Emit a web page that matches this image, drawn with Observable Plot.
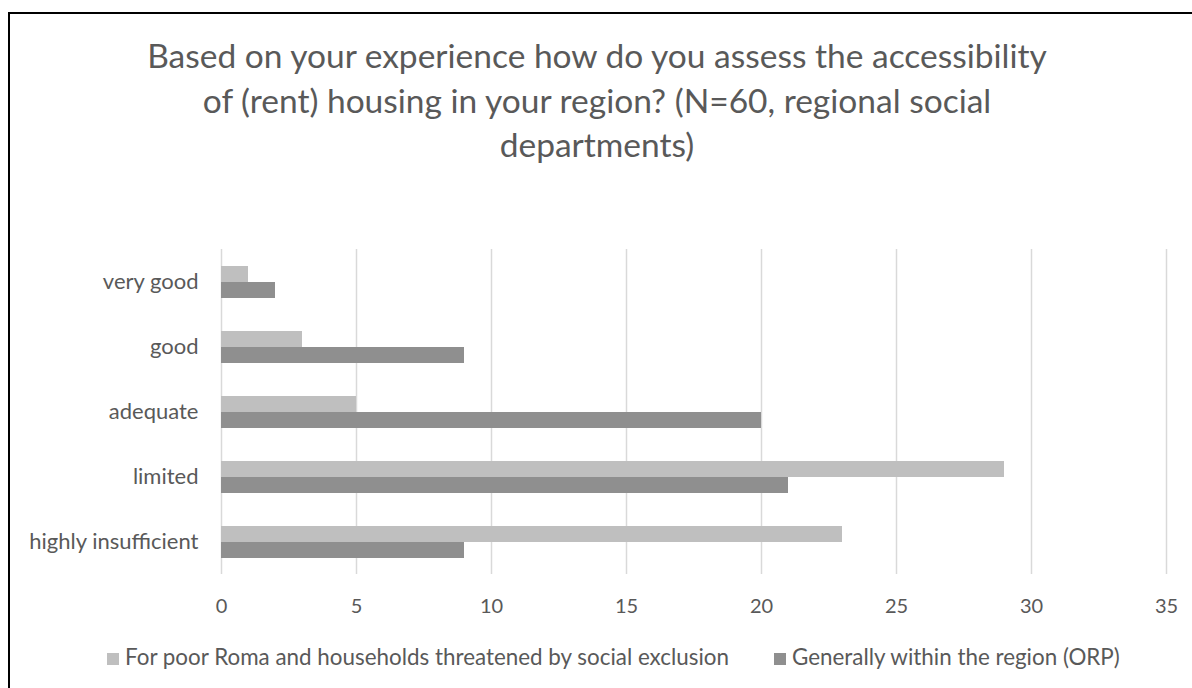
<!DOCTYPE html>
<html>
<head>
<meta charset="utf-8">
<script src="https://cdn.jsdelivr.net/npm/d3@7"></script>
<script src="https://cdn.jsdelivr.net/npm/@observablehq/plot@0.6"></script>
<style>
  html, body { margin: 0; padding: 0; background: #fff; }
  #wrap { position: relative; width: 1192px; height: 688px; overflow: hidden; background: #fff; font-family: Lato, "Open Sans", sans-serif; color: #595959; }
  #frame { position: absolute; left: 8px; top: 12px; width: 1300px; height: 800px; border-left: 2px solid #000; border-top: 2px solid #000; box-sizing: border-box; }
  #title { position: absolute; left: 0; width: 1194px; top: 33px; text-align: center; font-size: 33.5px; line-height: 44.5px; color: #595959; }
  #chart { position: absolute; left: 0; top: 230px; }
  #legend { position: absolute; left: 0; top: 644px; width: 1192px; height: 26px; font-size: 22.4px; }
  .li { position: absolute; top: 0; white-space: nowrap; line-height: 26px; }
  .sw { display: inline-block; width: 12px; height: 12px; margin-right: 6px; vertical-align: 0px; }
</style>
</head>
<body>
<div id="wrap">
  <div id="frame"></div>
  <div id="title">Based on your experience how do you assess the accessibility<br>of (rent) housing in your region? (N=60, regional social<br>departments)</div>
  <div id="chart"></div>
  <div id="legend"></div>
</div>
<script>
const categories = ["very good", "good", "adequate", "limited", "highly insufficient"];
const seriesNames = ["For poor Roma and households threatened by social exclusion", "Generally within the region (ORP)"];
const romaValues = [1, 3, 5, 29, 23];
const regionValues = [2, 9, 20, 21, 9];
const xTicks = [0, 5, 10, 15, 20, 25, 30, 35];
const colors = ["#bfbfbf", "#8f8f8f"];

const data = [];
categories.forEach((c, i) => {
  data.push({category: c, series: seriesNames[0], value: romaValues[i]});
  data.push({category: c, series: seriesNames[1], value: regionValues[i]});
});

const chart = Plot.plot({
  width: 1192,
  height: 394,
  marginLeft: 221,
  marginRight: 26,
  marginTop: 18,
  marginBottom: 50,
  style: { fontFamily: "Lato, 'Open Sans', sans-serif", fontSize: "22px", color: "#595959", background: "transparent" },
  x: { domain: [0, 35], ticks: xTicks, tickSize: 0, tickPadding: 24, label: null, grid: false },
  fy: { domain: categories, padding: 0, label: null, tickSize: 0, tickPadding: 23 },
  y: { domain: seriesNames, axis: null, paddingInner: 0, paddingOuter: 0.97 },
  color: { domain: seriesNames, range: colors },
  facet: { data: data, y: "category" },
  marks: [
    Plot.ruleX(xTicks, { stroke: "#d9d9d9", strokeWidth: 1.5, strokeOpacity: 1 }),
    Plot.barX(data, { x: "value", y: "series", fill: "series", inset: 0 })
  ]
});
document.getElementById("chart").appendChild(chart);

// x tick labels slightly smaller than category labels
chart.querySelectorAll("g[aria-label='x-axis tick label']").forEach(g => { g.setAttribute("font-size", "20px"); });

const legend = document.getElementById("legend");
const legendX = [107, 774];
seriesNames.forEach((s, i) => {
  const d = document.createElement("div");
  d.className = "li";
  d.style.left = legendX[i] + "px";
  const sw = document.createElement("span");
  sw.className = "sw";
  sw.style.background = colors[i];
  d.appendChild(sw);
  d.appendChild(document.createTextNode(s));
  legend.appendChild(d);
});
</script>
</body>
</html>
